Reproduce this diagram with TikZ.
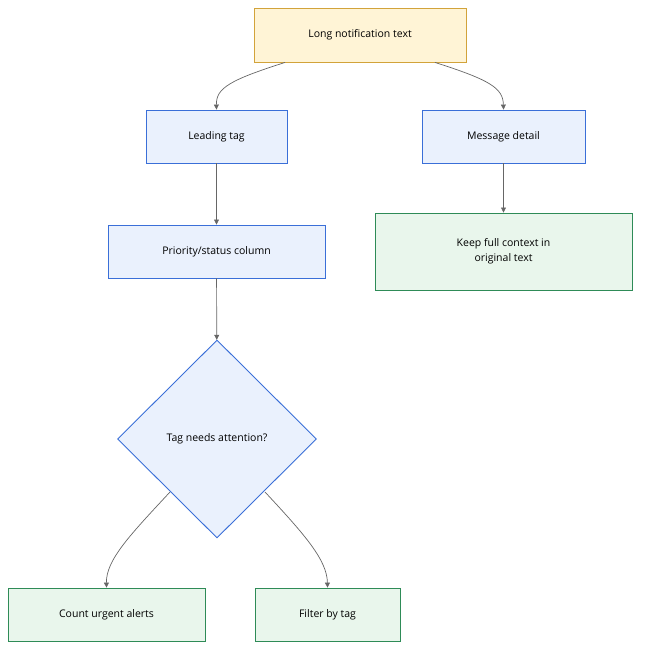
\documentclass[tikz,border=0pt]{standalone}
\usepackage{fontspec}
\setmainfont{Open Sans}
\usetikzlibrary{shapes.geometric,arrows.meta}
\definecolor{bfill}{HTML}{EAF1FD}
\definecolor{bdraw}{HTML}{3A6FD8}
\definecolor{gfill}{HTML}{E9F6EC}
\definecolor{gdraw}{HTML}{2E8B57}
\definecolor{yfill}{HTML}{FFF4D6}
\definecolor{ydraw}{HTML}{D2A33A}
\definecolor{edge}{HTML}{666666}
\begin{document}
\begin{tikzpicture}[x=1pt,y=-1pt,
 box/.style={draw,line width=0.9pt,inner sep=0pt,font=\fontsize{10.5}{15}\selectfont,align=center},
 blue/.style={box,fill=bfill,draw=bdraw},
 green/.style={box,fill=gfill,draw=gdraw},
 arr/.style={draw=edge,line width=0.7pt,-{Triangle[length=5pt,width=5pt]}}]
\useasboundingbox (0,0) rectangle (648,658);
\node[box,fill=yfill,draw=ydraw,minimum width=212pt,minimum height=54pt] (top) at (360,35) {Long notification text};
\node[blue,minimum width=141pt,minimum height=53pt] (lead) at (216.5,136.5) {Leading tag};
\node[blue,minimum width=163pt,minimum height=53pt] (msg) at (503.5,136.5) {Message detail};
\node[blue,minimum width=217pt,minimum height=53pt] (prio) at (216.5,251.5) {Priority/status column};
\node[green,minimum width=257pt,minimum height=77pt] (keep) at (503.5,251.5) {Keep full context in\\original text};
\node[blue,diamond,minimum width=199pt,minimum height=198pt] (dec) at (217,439) {Tag needs attention?};
\node[green,minimum width=197pt,minimum height=53pt] (count) at (106.5,614.5) {Count urgent alerts};
\node[green,minimum width=145pt,minimum height=53pt] (filt) at (327.5,614.5) {Filter by tag};
\draw[arr] (top.south) ++(-75,0) coordinate (t1) .. controls (230,80) and (216,88) .. (lead.north);
\draw[arr] (top.south) ++(75,0) coordinate (t2) .. controls (490,80) and (503,88) .. (msg.north);
\draw[arr] (lead) -- (prio);
\draw[arr] (msg) -- (keep);
\draw[arr] (prio) -- (dec);
\draw[arr] (170,492) coordinate (d1) .. controls (130,535) and (106,560) .. (count.north);
\draw[arr] (265,492) coordinate (d2) .. controls (305,535) and (327,560) .. (filt.north);
\end{tikzpicture}
\end{document}
